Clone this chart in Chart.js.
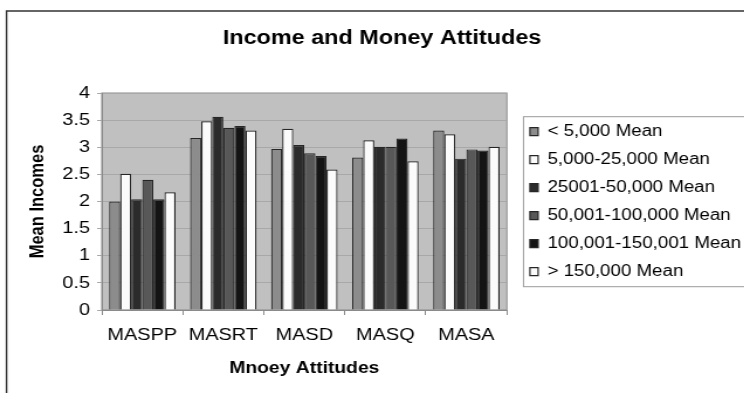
<!DOCTYPE html>
<html>
<head>
<meta charset="utf-8">
<script src="https://cdn.jsdelivr.net/npm/chart.js@4.4.1/dist/chart.umd.min.js"></script>
<style>
  html, body { margin: 0; padding: 0; background: #fff; overflow: hidden; }
  /* the reference picture is stretched sideways, so the chart is too */
  #wrap { position: absolute; left: 0; top: 0; width: 660px; height: 393px;
          transform: scaleX(1.17); transform-origin: 0 0; }
</style>
</head>
<body>
<div id="wrap"><canvas id="chart"></canvas></div>
<script>
    // values
    var categories = ['MASPP', 'MASRT', 'MASD', 'MASQ', 'MASA'];
    var seriesNames = ['< 5,000 Mean', '5,000-25,000 Mean', '25001-50,000 Mean',
                       '50,001-100,000 Mean', '100,001-150,001 Mean', '> 150,000 Mean'];
    var under5k     = [2.00, 3.17, 2.97, 2.81, 3.31];
    var from5to25k  = [2.51, 3.48, 3.34, 3.13, 3.24];
    var from25to50k = [2.04, 3.56, 3.04, 3.01, 2.79];
    var from50to100k = [2.40, 3.36, 2.89, 3.01, 2.96];
    var from100to150k = [2.04, 3.39, 2.84, 3.16, 2.94];
    var over150k    = [2.17, 3.31, 2.59, 2.74, 3.01];
    var yTickLabels = ['0', '0.5', '1', '1.5', '2', '2.5', '3', '3.5', '4'];

    var seriesValues = [under5k, from5to25k, from25to50k, from50to100k, from100to150k, over150k];
    var seriesColors = ['#8c8c8c', '#fbfbfb', '#2b2b2b', '#585858', '#141414', '#fbfbfb'];

    Chart.defaults.font.family = 'Arial, "Liberation Sans", sans-serif';
    Chart.defaults.color = '#000';

    var datasets = [];
    for (var i = 0; i < seriesNames.length; i++) {
        datasets.push({
            label: seriesNames[i],
            data: seriesValues[i],
            backgroundColor: seriesColors[i],
            borderColor: '#262626',
            borderWidth: 1.2,
            categoryPercentage: 0.82,
            barPercentage: 1.0
        });
    }

    // frame, grey plot area and legend box
    var backdrop = {
        id: 'backdrop',
        beforeDraw: function(chart) {
            var ctx = chart.ctx;
            var a = chart.chartArea;
            ctx.save();
            ctx.strokeStyle = '#333';
            ctx.lineWidth = 1.4;
            ctx.beginPath();
            ctx.moveTo(5.6, chart.height + 5);
            ctx.lineTo(5.6, 11);
            ctx.lineTo(chart.width + 5, 11);
            ctx.stroke();

            ctx.fillStyle = '#c0c0c0';
            ctx.fillRect(a.left, a.top, a.right - a.left, a.bottom - a.top);
            ctx.strokeStyle = '#8a8a8a';
            ctx.lineWidth = 1;
            ctx.strokeRect(a.left, a.top, a.right - a.left, a.bottom - a.top);

            var lg = chart.legend;
            var mid = (lg.top + lg.bottom) / 2;
            ctx.fillStyle = '#fff';
            ctx.strokeStyle = '#9a9a9a';
            ctx.fillRect(lg.left + 6, mid - 85, chart.width, 170);
            ctx.strokeRect(lg.left + 6.5, mid - 85, chart.width, 170);
            ctx.restore();
        }
    };

    var ctx = document.getElementById('chart').getContext('2d');
    var chartObj = new Chart(ctx, {
        type: 'bar',
        data: { labels: categories, datasets: datasets },
        plugins: [backdrop],
        options: {
            responsive: true,
            maintainAspectRatio: false,
            animation: false,
            layout: { padding: { left: 9.6, right: 16.6, top: 10.4, bottom: 0 } },
            plugins: {
                title: {
                    display: true,
                    text: 'Income and Money Attitudes',
                    font: { size: 20, weight: 'bold' },
                    color: '#000',
                    padding: { top: 16, bottom: 42.6 }
                },
                legend: {
                    position: 'right',
                    maxWidth: 230,
                    labels: {
                        boxWidth: 7,
                        boxHeight: 8,
                        padding: 12,
                        color: '#000',
                        font: { size: 16 }
                    }
                },
                tooltip: { enabled: false }
            },
            scales: {
                x: {
                    grid: { drawOnChartArea: false, drawTicks: true, tickLength: 5, color: '#8a8a8a' },
                    border: { color: '#8a8a8a' },
                    ticks: { font: { size: 17 }, color: '#000', padding: 10 },
                    title: {
                        display: true, text: 'Mnoey Attitudes', color: '#000',
                        font: { size: 16.5, weight: 'bold' },
                        padding: { top: 0, bottom: 15 }
                    },
                    afterFit: function(s) { s.height = 83; }
                },
                y: {
                    min: 0,
                    max: 4,
                    ticks: {
                        stepSize: 0.5,
                        font: { size: 17 },
                        color: '#000',
                        padding: 6,
                        callback: function(value, index) { return yTickLabels[index]; }
                    },
                    grid: { color: '#a8a8a8', tickLength: 4 },
                    border: { color: '#8a8a8a' },
                    title: {
                        display: true, text: 'Mean Incomes', color: '#000',
                        font: { size: 16.5, weight: 'bold' },
                        padding: { top: 12.5, bottom: 0 }
                    },
                    afterFit: function(s) { s.width = 77.4; }
                },
                gap: {
                    position: 'right',
                    display: true,
                    ticks: { display: false },
                    grid: { display: false },
                    border: { display: false },
                    afterFit: function(s) { s.width = 7.7; }
                }
            }
        }
    });
</script>
</body>
</html>
